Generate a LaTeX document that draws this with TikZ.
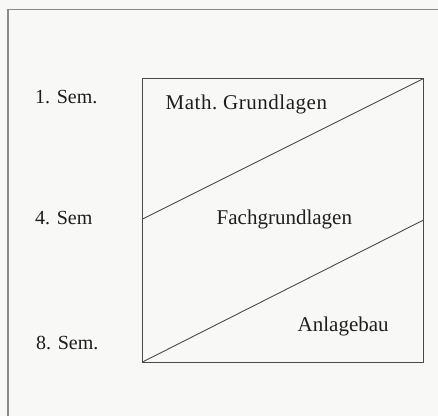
\documentclass[tikz,border=0pt]{standalone}
\usepackage{fontspec}
\setmainfont{Liberation Serif}
\definecolor{bg}{HTML}{F8F8F6}
\definecolor{frame}{HTML}{8A8A8A}
\definecolor{ink}{HTML}{4A4A4A}
\definecolor{txt}{HTML}{1E1E1E}
\tikzset{
  lbl/.style={anchor=base west, inner sep=0pt, text=txt, font=\fontsize{20}{22}\selectfont},
  area/.style={anchor=base west, inner sep=0pt, text=txt, font=\fontsize{21}{24}\selectfont},
  boxline/.style={draw=ink, line width=0.9pt},
}
\begin{document}
\begin{tikzpicture}[x=1pt,y=-1pt]
\useasboundingbox[fill=bg] (0,0) rectangle (438,416);
% outer frame (cropped at right and bottom)
\draw[frame, line width=1.4pt] (8,416) -- (8,9.5) -- (438,9.5);
% main box
\coordinate (tl) at (142.5,78.5);
\coordinate (tr) at (423.5,78.5);
\coordinate (bl) at (142.5,362);
\coordinate (br) at (423.5,362);
\coordinate (ml) at (142.5,219);
\coordinate (mr) at (423.5,220);
\draw[boxline] (tl) rectangle (br);
\draw[boxline] (ml) -- (tr);
\draw[boxline] (bl) -- (mr);
% semester labels
\node[lbl] (s1) at (35,103) {1. Sem.};
\node[lbl] (s4) at (35,224) {4. Sem};
\node[lbl] (s8) at (36,349) {8. Sem.};
% area labels
\node[area] (math) at (165.5,109) {\addfontfeature{LetterSpace=2.5}Math.\ Grundlagen};
\node[area] (fach) at (216.5,224) {Fachgrundlagen};
\node[area] (anl) at (297.5,331) {Anlagebau};
\end{tikzpicture}
\end{document}
